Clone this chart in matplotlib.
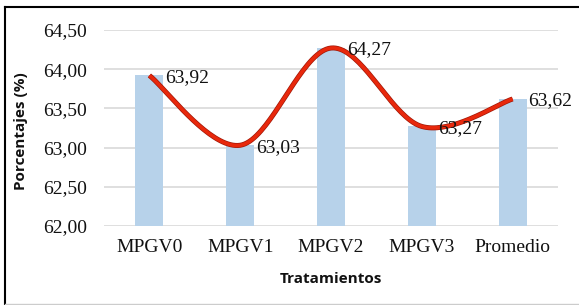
import numpy as np
import matplotlib
matplotlib.use("Agg")
import matplotlib.pyplot as plt
from matplotlib.lines import Line2D

categories = ["MPGV0", "MPGV1", "MPGV2", "MPGV3", "Promedio"]
values = [63.92, 63.03, 64.27, 63.27, 63.62]
labels = ["63,92", "63,03", "64,27", "63,27", "63,62"]
yticks = [62.0, 62.5, 63.0, 63.5, 64.0, 64.5]
ytick_labels = ["62,00", "62,50", "63,00", "63,50", "64,00", "64,50"]

W, H = 579, 305
fig = plt.figure(figsize=(W / 100, H / 100), dpi=100)
ax = fig.add_axes([104 / W, 1 - 226 / H, (558 - 104) / W, (226 - 30) / H])

x = np.arange(len(categories))
ax.bar(x, values, width=0.31, color="#b7d2ea", zorder=2, bottom=0)

# smooth line (Catmull-Rom style, like spreadsheet smoothing)
def smooth(xs, ys, n=40):
    px = np.concatenate([[xs[0]], xs, [xs[-1]]])
    py = np.concatenate([[ys[0]], ys, [ys[-1]]])
    outx, outy = [], []
    for i in range(1, len(px) - 2):
        p0, p1, p2, p3 = [np.array([px[j], py[j]]) for j in (i - 1, i, i + 1, i + 2)]
        c1 = p1 + (p2 - p0) / 6
        c2 = p2 - (p3 - p1) / 6
        t = np.linspace(0, 1, n)[:, None]
        pts = (1 - t) ** 3 * p1 + 3 * (1 - t) ** 2 * t * c1 + 3 * (1 - t) * t ** 2 * c2 + t ** 3 * p2
        outx.extend(pts[:, 0]); outy.extend(pts[:, 1])
    return np.array(outx), np.array(outy)

sx, sy = smooth(x.astype(float), np.array(values))
ax.plot(sx, sy, color="#a01808", lw=3.6, zorder=3, solid_capstyle="butt")
ax.plot(sx, sy, color="#e8280c", lw=2.6, zorder=4, solid_capstyle="butt")

for xi, v, lab in zip(x, values, labels):
    ax.annotate(lab, (xi, v), xytext=(16, -2), textcoords="offset pixels",
                ha="left", va="center", fontsize=14, family="Liberation Serif",
                color="#111111", zorder=5)

ax.set_ylim(62.0, 64.5)
ax.set_xlim(-0.5, len(categories) - 0.5)
ax.set_yticks(yticks)
ax.set_yticklabels(ytick_labels, family="Liberation Serif", fontsize=14, color="#111111")
ax.set_xticks(x)
ax.set_xticklabels(categories, family="Liberation Serif", fontsize=14, color="#111111")
ax.tick_params(length=0, pad=12)
ax.tick_params(axis="x", pad=9)
ax.grid(axis="y", color="#d9d9d9", lw=1.2, zorder=0)
for s in ax.spines.values():
    s.set_visible(False)

fig.text(331 / W, 1 - 279 / H, "Tratamientos", ha="center", va="center",
         fontsize=11, fontweight="bold", family="Open Sans", color="#111111")
fig.text(21 / W, 1 - 131 / H, "Porcentajes (%)", ha="center", va="center",
         rotation=90, fontsize=11, fontweight="bold", family="Open Sans", color="#111111")

# figure frame
fig.add_artist(Line2D([5 / W, 1], [1 - 7 / H, 1 - 7 / H], transform=fig.transFigure, color="black", lw=1.5))
fig.add_artist(Line2D([5 / W, 5 / W], [1 - 7 / H, 1 - 304 / H], transform=fig.transFigure, color="black", lw=1.5))
fig.add_artist(Line2D([5 / W, 1], [1 - 304 / H, 1 - 304 / H], transform=fig.transFigure, color="#cccccc", lw=1))

fig.savefig("out.png", dpi=100)
